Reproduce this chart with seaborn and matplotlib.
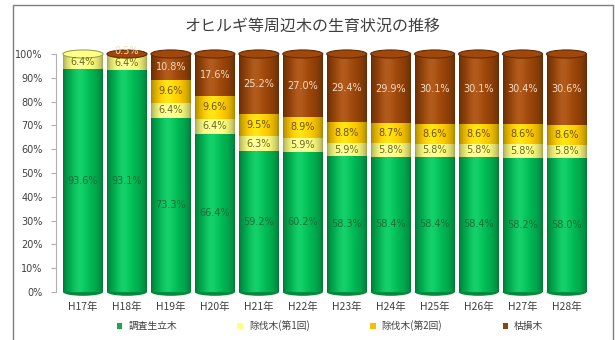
import numpy as np
import pandas as pd
import matplotlib
matplotlib.use("Agg")
import matplotlib.pyplot as plt
import seaborn as sns
from matplotlib.patches import Ellipse, Patch, Rectangle
from matplotlib.colors import to_rgb

# ---- data -----------------------------------------------------------------
years = ["H17年", "H18年", "H19年", "H20年", "H21年", "H22年",
         "H23年", "H24年", "H25年", "H26年", "H27年", "H28年"]
standing = [93.6, 93.1, 73.3, 66.4, 59.2, 60.2, 58.3, 58.4, 58.4, 58.4, 58.2, 58.0]
thinned_1 = [6.4, 6.4, 6.4, 6.4, 6.3, 5.9, 5.9, 5.8, 5.8, 5.8, 5.8, 5.8]
thinned_2 = [0.0, 0.0, 9.6, 9.6, 9.5, 8.9, 8.8, 8.7, 8.6, 8.6, 8.6, 8.6]
dead = [0.0, 0.5, 10.8, 17.6, 25.2, 27.0, 29.4, 29.9, 30.1, 30.1, 30.4, 30.6]
series_names = ["調査生立木", "除伐木(第1回)", "除伐木(第2回)", "枯損木"]
title = "オヒルギ等周辺木の生育状況の推移"

# ---- style ----------------------------------------------------------------
colors = ["#00b050", "#f6f67c", "#f5c300", "#944208"]
label_colors = ["#1e6e36", "#6a6a22", "#6e5208", "#f3dcc4"]
legend_colors = ["#1aa552", "#ffff88", "#f5c000", "#8b4513"]

sns.set_style("white")
plt.rcParams["font.family"] = ["DejaVu Sans", "Noto Sans CJK JP"]
cjk = ["Noto Sans CJK JP", "DejaVu Sans"]
text_grey = "#404040"

raw = np.array([standing, thinned_1, thinned_2, dead], dtype=float)
share = raw / raw.sum(axis=0) * 100.0          # 100% stacked
cum = share.cumsum(axis=0)
bottoms = cum - share

rows = []
for i, name in enumerate(series_names):
    for j, yr in enumerate(years):
        rows.append({"series": name, "year": yr, "top": cum[i, j]})
df = pd.DataFrame(rows)

fig = plt.figure(figsize=(6.15, 3.4), dpi=100)
ax = fig.add_axes([56 / 615, 48 / 340, 536 / 615, 238 / 340])

bar_width = 0.91
for i in reversed(range(len(series_names))):
    sns.barplot(data=df[df["series"] == series_names[i]], x="year", y="top",
                order=years, color=colors[i], saturation=1, width=bar_width,
                ax=ax, zorder=2)

# geometry of the bars
bars = sorted(ax.patches[:len(years)], key=lambda p: p.get_x())
xs = [(p.get_x(), p.get_x() + p.get_width()) for p in bars]

# cylinder shading across the width of a column
t = np.linspace(0, 1, 80)
shade = 0.66 + 0.42 * np.sin(np.pi * t) ** 0.6
highlight = 0.08 * np.exp(-((t - 0.4) / 0.18) ** 2)


def cylinder_strip(color):
    c = np.array(to_rgb(color))
    img = c[None, :] * shade[:, None] + highlight[:, None]
    return np.clip(img, 0, 1)[None, :, :]


for j, (x0, x1) in enumerate(xs):
    xc = (x0 + x1) / 2
    w = x1 - x0
    # rounded bottom of the column
    ax.add_patch(Ellipse((xc, 0), w, 3.2, facecolor="#008a3c",
                         edgecolor="none", zorder=1, clip_on=False))
    top_idx = 0
    for i in range(len(series_names)):
        if share[i, j] <= 0:
            continue
        top_idx = i
        ax.imshow(cylinder_strip(colors[i]), extent=(x0, x1, bottoms[i, j], cum[i, j]),
                  aspect="auto", interpolation="bilinear", zorder=3)
    # top face of the column
    tc = np.array(to_rgb(colors[top_idx]))
    ax.add_patch(Ellipse((xc, 100), w, 3.4, facecolor=np.clip(tc * 1.08, 0, 1),
                         edgecolor=tc * 0.65, lw=0.8, zorder=4, clip_on=False))

    # value labels
    for i in range(len(series_names)):
        if raw[i, j] <= 0:
            continue
        ymid = (bottoms[i, j] + cum[i, j]) / 2
        if share[i, j] < 2:
            ymid = 101.2
        ax.text(xc, ymid, f"{raw[i, j]:.1f}%", ha="center", va="center",
                fontsize=7, color=label_colors[i], zorder=6, clip_on=False)

ax.set_xlim(-0.615, 11.58)
ax.set_ylim(0, 100)
ax.set_yticks(np.arange(0, 101, 10))
ax.set_yticklabels([f"{v}%" for v in range(0, 101, 10)])
ax.set_xlabel("")
ax.set_ylabel("")
for s in ["top", "right", "bottom"]:
    ax.spines[s].set_visible(False)
ax.spines["left"].set_color("#b0b0b0")
ax.spines["left"].set_linewidth(0.8)
ax.tick_params(axis="y", left=True, length=3.5, width=0.8, color="#b0b0b0",
               labelsize=7, labelcolor=text_grey, pad=6)
ax.tick_params(axis="x", bottom=False, length=0, pad=7)
for lbl in ax.get_xticklabels():
    lbl.set_fontfamily(cjk)
    lbl.set_fontsize(7.5)
    lbl.set_color(text_grey)

# title and legend
fig.text(313 / 615, 1 - 26 / 340, title, ha="center", va="center",
         fontsize=11.5, color=text_grey, family=cjk)

handles = [Patch(facecolor=c, edgecolor="none") for c in legend_colors]
fig.legend(handles, series_names, loc="center",
           bbox_to_anchor=(330 / 615, 1 - 326 / 340),
           ncol=4, frameon=False, handlelength=0.6, handleheight=0.6,
           handletextpad=0.6, columnspacing=6.2,
           prop={"family": cjk, "size": 7}, labelcolor=text_grey)

# chart frame
fig.add_artist(Rectangle((12.5 / 615, -0.05), (613 - 12.5) / 615, 1.05 - 5.5 / 340,
                         transform=fig.transFigure, fill=False,
                         edgecolor="#7f7f7f", lw=1.0))

fig.savefig("out.png", dpi=100)
